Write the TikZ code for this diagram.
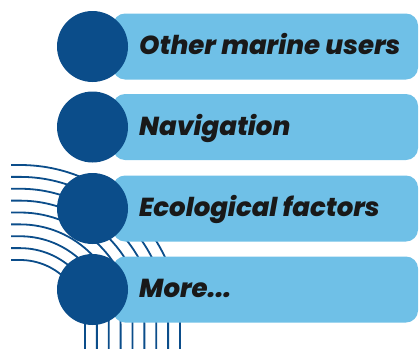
\documentclass[tikz,border=0pt]{standalone}
\usepackage{fontspec}
\setmainfont{Poppins}[BoldItalicFont={Poppins ExtraBold Italic}]
\definecolor{barblue}{HTML}{6FC0E7}
\definecolor{darkblue}{HTML}{0B4D8A}
\begin{document}
\begin{tikzpicture}[x=1pt,y=-1pt,
  bar/.style={fill=barblue,rounded corners=12pt},
  disc/.style={circle,fill=darkblue,minimum size=71pt,inner sep=0pt},
  label/.style={anchor=base west,inner sep=0pt,font=\fontsize{26}{31}\selectfont\bfseries\itshape,text=black!90},
  wave/.style={draw=darkblue,line width=1.8pt}]
\useasboundingbox (0,0) rectangle (419,348);
% waves
\foreach \k in {0,...,8}{
  \pgfmathsetmacro{\r}{65+11.875*\k}
  \draw[wave] (11,{325-\r}) -- (20,{325-\r}) arc[start angle=-90,end angle=0,radius=\r] -- ({20+\r},350);
}
% bars
\foreach \cy/\name in {46.5/b1,127/b2,208.5/b3,289.5/b4}{
  \fill[bar] (113,{\cy-33}) rectangle (418,{\cy+33});
  \coordinate (\name) at (92.5,\cy);
}
\foreach \name in {b1,b2,b3,b4}{
  \node[disc] (c\name) at (\name) {};
}
\node[label] (t1) at (139,54.5) {Other marine users};
\node[label] (t2) at (139,135) {Navigation};
\node[label] (t3) at (139,216.5) {Ecological factors};
\node[label] (t4) at (139,297.5) {More...};
\end{tikzpicture}
\end{document}
